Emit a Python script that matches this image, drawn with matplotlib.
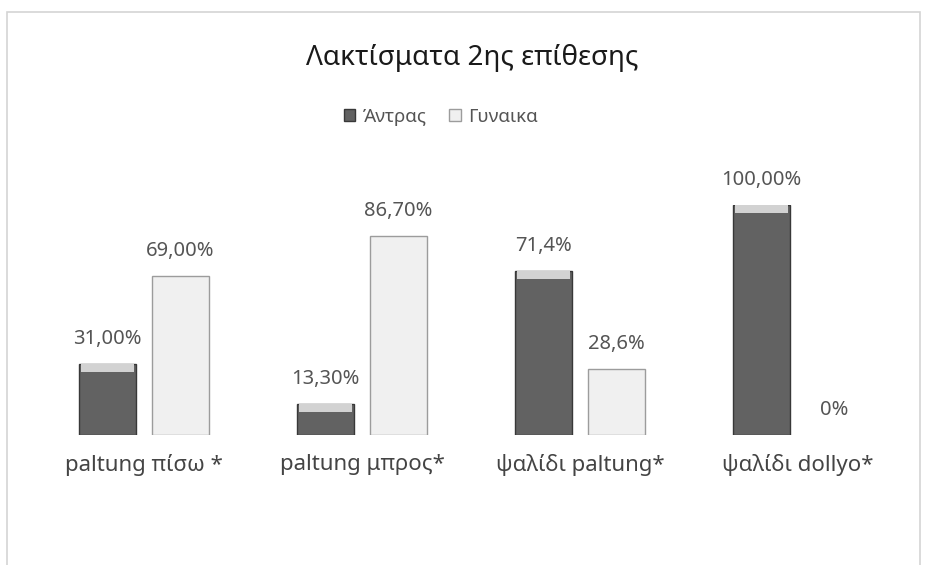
import matplotlib
matplotlib.use("Agg")
import matplotlib.pyplot as plt
import numpy as np
from matplotlib.patches import Rectangle

plt.rcParams["font.family"] = ["Noto Sans", "DejaVu Sans"]

# data
categories = ["paltung πίσω *", "paltung μπρος*", "ψαλίδι paltung*", "ψαλίδι dollyo*"]
men = [31.0, 13.3, 71.4, 100.0]
women = [69.0, 86.7, 28.6, 0.0]
men_labels = ["31,00%", "13,30%", "71,4%", "100,00%"]
women_labels = ["69,00%", "86,70%", "28,6%", "0%"]
series_names = ["Άντρας", "Γυναικα"]
title = "Λακτίσματα 2ης επίθεσης"

W, H = 925, 565
fig = plt.figure(figsize=(W / 100, H / 100), dpi=100)
fig.patch.set_facecolor("white")

# outer chart frame
fig.add_artist(Rectangle((7 / W, -0.01), 913 / W, (H - 12) / H + 0.01,
                         transform=fig.transFigure, fill=False,
                         edgecolor="#d4d4d4", linewidth=1.2))

ax = fig.add_axes([35 / W, 130 / H, 872 / W, 230 / H])
ax.set_xlim(-0.5, 3.5)
ax.set_ylim(0, 100)
ax.axis("off")

x = np.arange(len(categories))
w = 0.265
off = 0.167

dark, dark_edge = "#626262", "#383838"
light, light_edge = "#f0f0f0", "#9c9c9c"

ax.bar(x - off, men, w, color=dark,
       edgecolor=[dark_edge if v > 0 else "none" for v in men], linewidth=1.0, zorder=2)
# top bevel highlight on dark bars
bevel = [min(3.5, v) for v in men]
ax.bar(x - off, bevel, w * 0.92, bottom=[v - b for v, b in zip(men, bevel)],
       color="#d2d2d2", linewidth=0, zorder=3)
ax.bar(x + off, women, w, color=light,
       edgecolor=[light_edge if v > 0 else "none" for v in women], linewidth=1.0, zorder=2)

for xi, v, lab in zip(x - off, men, men_labels):
    ax.annotate(lab, (xi, v), xytext=(0, 18), textcoords="offset points",
                ha="center", va="center", fontsize=14.5, color="#555555",
                annotation_clip=False)
for xi, v, lab in zip(x + off, women, women_labels):
    ax.annotate(lab, (xi, v), xytext=(0, 18), textcoords="offset points",
                ha="center", va="center", fontsize=14.5, color="#555555",
                annotation_clip=False)

for xi, cat in zip(x, categories):
    ax.text(xi, -13, cat, ha="center", va="center", fontsize=16, color="#444444",
            clip_on=False)

fig.text(472 / W, (H - 58) / H, title, ha="center", va="center", fontsize=20, color="#1a1a1a")

# legend
ly = (H - 117) / H
handles = [Rectangle((0, 0), 1, 1, facecolor=dark, edgecolor=dark_edge),
           Rectangle((0, 0), 1, 1, facecolor=light, edgecolor=light_edge)]
fig.legend(handles, series_names, loc="center", bbox_to_anchor=(441 / W, ly), ncol=2,
           frameon=False, fontsize=13.5, handlelength=0.6, handleheight=0.6,
           handletextpad=0.4, columnspacing=1.2, labelcolor="#555555")

fig.savefig("out.png", dpi=100)
